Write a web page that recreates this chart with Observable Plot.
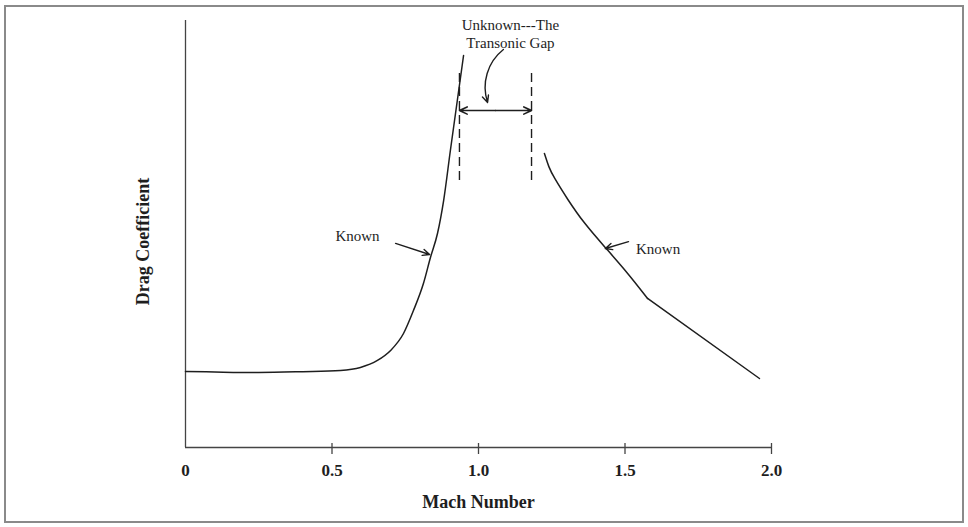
<!DOCTYPE html>
<html>
<head>
<meta charset="utf-8">
<script src="https://cdn.jsdelivr.net/npm/d3@7"></script>
<script src="https://cdn.jsdelivr.net/npm/@observablehq/plot@0.6"></script>
<style>
  html, body { margin: 0; padding: 0; background: #fff; }
  #wrap { position: relative; width: 968px; height: 527px; }
  #border { position: absolute; left: 4px; top: 5px; width: 956px; height: 514px; border: 2px solid #8a8a8a; pointer-events: none; }
</style>
</head>
<body>
<div id="wrap"><div id="border"></div></div>
<script>
// Subsonic "known" branch
const subMach = [0, 0.1, 0.25, 0.4, 0.529, 0.597, 0.655, 0.700, 0.744, 0.778, 0.812, 0.836, 0.860, 0.881, 0.904, 0.949];
const subCd   = [0.089, 0.0884, 0.0878, 0.0888, 0.0902, 0.0937, 0.1019, 0.1136, 0.1335, 0.1604, 0.192, 0.2225, 0.2506, 0.2892, 0.3478, 0.459];
// Supersonic "known" branch (curved part, then straight part)
const supMachA = [1.225, 1.240, 1.256, 1.304, 1.358, 1.433, 1.509, 1.577];
const supCdA   = [0.3443, 0.3280, 0.3170, 0.2905, 0.2635, 0.2340, 0.2045, 0.1745];
const supMachB = [1.577, 1.959];
const supCdB   = [0.1745, 0.0808];
// Transonic gap bounds
const gapMach = [0.935, 1.181];
const gapCdTop = 0.439, gapCdBottom = 0.3127, gapArrowCd = 0.3946;
// Tick values and labels
const xTicks = [0, 0.5, 1.0, 1.5, 2.0];
const xTickLabels = ["0", "0.5", "1.0", "1.5", "2.0"];
const xTickMarks = [0.5, 1.0, 1.5, 2.0];
// Annotations
const notes = [
  {text: "Known", mach: 0.587, cd: 0.248},
  {text: "Known", mach: 1.613, cd: 0.233},
  {text: "Unknown---The\nTransonic Gap", mach: 1.109, cd: 0.485}
];
const pointerArrows = [
  {x1: 0.717, y1: 0.239, x2: 0.833, y2: 0.226},
  {x1: 1.512, y1: 0.241, x2: 1.433, y2: 0.233}
];
const gapPointer = [{x1: 1.085, y1: 0.466, x2: 1.031, y2: 0.404}];

const sub = subMach.map((m, i) => ({m, cd: subCd[i]}));
const supA = supMachA.map((m, i) => ({m, cd: supCdA[i]}));
const supB = supMachB.map((m, i) => ({m, cd: supCdB[i]}));
const gapMid = (gapMach[0] + gapMach[1]) / 2;
const gapHalves = gapMach.map(x => ({x1: gapMid, x2: x}));
const ink = "#1e1e1e";
const serif = "'Liberation Serif', 'Times New Roman', serif";

const chart = Plot.plot({
  width: 968,
  height: 527,
  marginLeft: 185,
  marginRight: 197,
  marginTop: 20,
  marginBottom: 80,
  x: {domain: [0, 2], axis: null},
  y: {domain: [0, 0.5], axis: null},
  style: {fontFamily: serif, background: "transparent", color: ink},
  marks: [
    // axes lines
    Plot.ruleX([0], {y1: 0, y2: 0.5, stroke: "#444", strokeWidth: 1.3}),
    Plot.ruleY([0], {x1: 0, x2: 2, stroke: "#444", strokeWidth: 1.5}),
    Plot.ruleX(xTickMarks, {y1: 0.0047, y2: -0.0082, stroke: "#444", strokeWidth: 1.3}),
    Plot.axisX(xTicks, {tickSize: 0, tickPadding: 16, tickFormat: (d, i) => xTickLabels[i], fontSize: 17, fontWeight: "bold", fontFamily: serif, label: null, fill: ink}),
    Plot.text(["Mach Number"], {x: 1.0, y: -0.064, text: d => d, fontSize: 18, fontWeight: "bold", fontFamily: serif, fill: ink}),
    Plot.text(["Drag Coefficient"], {frameAnchor: "left", textAnchor: "middle", dx: -42, dy: 7.5, rotate: -90, text: d => d, fontSize: 18, fontWeight: "bold", fontFamily: serif, fill: ink}),
    // curves
    Plot.line(sub, {x: "m", y: "cd", curve: "monotone-x", stroke: ink, strokeWidth: 1.5}),
    Plot.line(supA, {x: "m", y: "cd", curve: "basis", stroke: ink, strokeWidth: 1.5}),
    Plot.line(supB, {x: "m", y: "cd", stroke: ink, strokeWidth: 1.5}),
    // transonic gap
    Plot.ruleX(gapMach, {y1: gapCdBottom, y2: gapCdTop, stroke: ink, strokeWidth: 1.4, strokeDasharray: "9,5"}),
    Plot.arrow(gapHalves, {x1: "x1", x2: "x2", y1: gapArrowCd, y2: gapArrowCd, stroke: ink, strokeWidth: 1.6, headLength: 8, headAngle: 50}),
    Plot.arrow(gapPointer, {x1: "x1", y1: "y1", x2: "x2", y2: "y2", bend: -35, stroke: ink, strokeWidth: 1.4, headLength: 8, headAngle: 50}),
    Plot.arrow(pointerArrows, {x1: "x1", y1: "y1", x2: "x2", y2: "y2", stroke: ink, strokeWidth: 1.4, headLength: 8, headAngle: 50}),
    Plot.text(notes, {x: "mach", y: "cd", text: "text", fontSize: 15, lineHeight: 1.2, fontFamily: serif, fill: ink})
  ]
});
document.getElementById("wrap").appendChild(chart);
</script>
</body>
</html>
